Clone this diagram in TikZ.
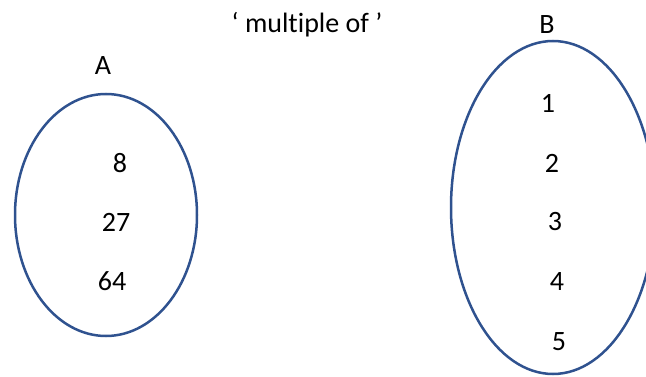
\documentclass[tikz,border=0pt]{standalone}
\usepackage{fontspec}
\setmainfont[Ligatures=NoCommon]{Carlito}
\definecolor{setblue}{RGB}{47,82,143}
\tikzset{
  setoval/.style={draw=setblue, line width=2.5pt},
  lbl/.style={font=\fontsize{28}{32}\selectfont, inner sep=0pt, anchor=center}
}
\begin{document}
\begin{tikzpicture}[x=1pt,y=1pt]
\useasboundingbox (0,0) rectangle (646,376);
\clip (0,0) rectangle (646,376);
\draw[setoval] (106,161) ellipse [x radius=91, y radius=121];
\draw[setoval] (553,168.5) ellipse [x radius=102, y radius=166.5];
\node[lbl] (title) at (307,351) {‘ multiple of ’};
\node[lbl] (A) at (103,310) {A};
\node[lbl] (B) at (547,351) {B};
\node[lbl] (a1) at (120,213) {8};
\node[lbl] (a2) at (116,154) {27};
\node[lbl] (a3) at (112,95) {64};
\node[lbl] (b1) at (548,273) {1};
\node[lbl] (b2) at (552,213) {2};
\node[lbl] (b3) at (555,154) {3};
\node[lbl] (b4) at (557,94) {4};
\node[lbl] (b5) at (559,34) {5};
\end{tikzpicture}
\end{document}
